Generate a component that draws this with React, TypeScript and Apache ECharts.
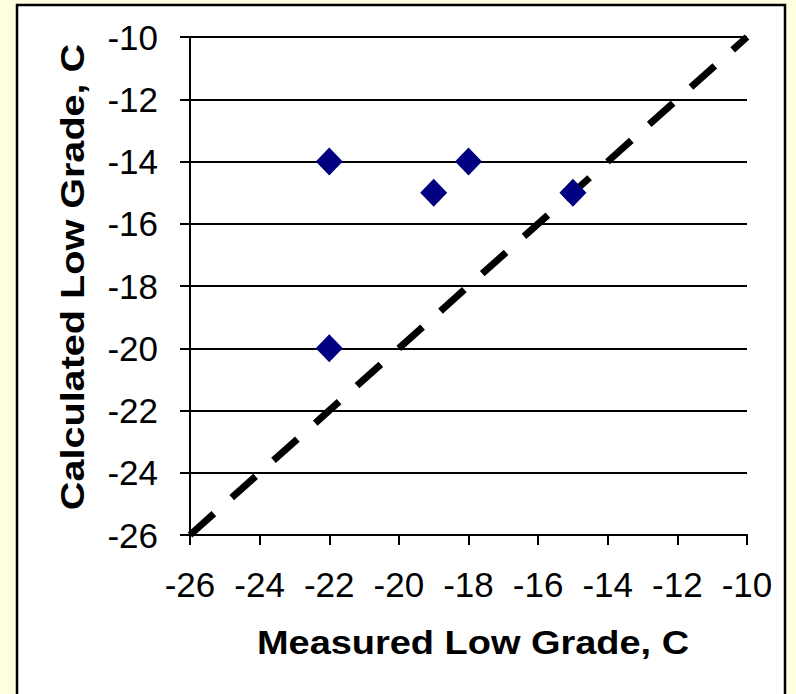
import React, { useEffect, useRef } from "react";
import * as echarts from "echarts";

const measured = [-22, -22, -19, -18, -15];
const calculated = [-14, -20, -15, -14, -15];
const refLineX = [-26, -10];
const refLineY = [-26, -10];
const xTitle = "Measured Low Grade, C";
const yTitle = "Calculated Low Grade, C";

const FONT = "'Liberation Sans', Arial, sans-serif";

export default function App() {
  const ref = useRef<HTMLDivElement>(null);
  useEffect(() => {
    if (!ref.current) return;
    const chart = echarts.init(ref.current, null, { renderer: "svg" });
    const points = measured.map((m, i) => [m, calculated[i]]);
    const line = refLineX.map((x, i) => [x, refLineY[i]]);
    chart.setOption({
      animation: false,
      backgroundColor: "#FFFFE0",
      graphic: [
        {
          type: "rect",
          z: -10,
          shape: { x: 17, y: 5, width: 768, height: 720 },
          style: { fill: "#FFFFFF", stroke: "#000000", lineWidth: 2.5 },
        },
        {
          type: "text",
          x: 473,
          y: 643,
          scaleX: 1.15,
          style: {
            text: xTitle,
            font: `bold 33px ${FONT}`,
            fill: "#000",
            textAlign: "center",
            textVerticalAlign: "middle",
          },
        },
        {
          type: "text",
          x: 73,
          y: 277,
          rotation: Math.PI / 2,
          scaleX: 1.2,
          style: {
            text: yTitle,
            font: `bold 33px ${FONT}`,
            fill: "#000",
            textAlign: "center",
            textVerticalAlign: "middle",
          },
        },
      ],
      grid: { left: 190, top: 37, width: 557, height: 498, containLabel: false },
      xAxis: {
        type: "value",
        min: -26,
        max: -10,
        interval: 2,
        axisLine: { show: true, onZero: false, lineStyle: { color: "#000", width: 2 } },
        axisTick: { show: true, length: 10, lineStyle: { color: "#000", width: 2 } },
        axisLabel: { margin: 32, fontSize: 35, fontFamily: FONT, color: "#000" },
        splitLine: { show: false },
      },
      yAxis: {
        type: "value",
        min: -26,
        max: -10,
        interval: 2,
        axisLine: { show: true, onZero: false, lineStyle: { color: "#000", width: 2 } },
        axisTick: { show: true, length: 10, lineStyle: { color: "#000", width: 2 } },
        axisLabel: { margin: 32, fontSize: 35, fontFamily: FONT, color: "#000" },
        splitLine: { show: true, lineStyle: { color: "#000", width: 2 } },
      },
      series: [
        {
          type: "line",
          data: line,
          showSymbol: false,
          symbol: "none",
          lineStyle: { color: "#000", width: 7, type: [32, 24] },
          z: 2,
        },
        {
          type: "scatter",
          data: points,
          symbol: "diamond",
          symbolSize: [27, 28],
          itemStyle: { color: "#000080", opacity: 1 },
          z: 3,
        },
      ],
    });
    return () => chart.dispose();
  }, []);
  return (
    <div
      ref={ref}
      style={{ position: "absolute", left: 0, top: 0, width: 796, height: 694 }}
    />
  );
}
